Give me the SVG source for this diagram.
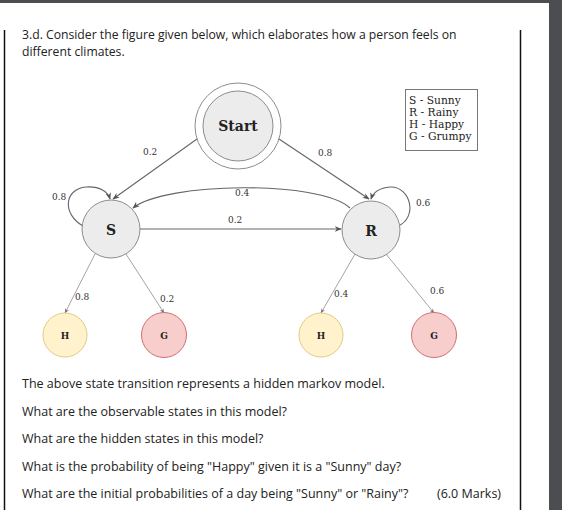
<svg xmlns="http://www.w3.org/2000/svg" width="562" height="510" viewBox="0 0 562 510">
<defs>
<style>
.q{font-family:"Open Sans","Liberation Sans",sans-serif;font-size:12.5px;fill:#222}
.t{font-family:"Open Sans","Liberation Sans",sans-serif;font-size:12.2px;fill:#222}
.n{font-family:"DejaVu Serif","Liberation Serif",serif;font-size:9px;fill:#333}
.lb{font-family:"DejaVu Serif","Liberation Serif",serif;font-weight:bold;fill:#222;text-anchor:middle}
.lg{font-family:"DejaVu Serif","Liberation Serif",serif;font-size:10.7px;fill:#222}
.st{fill:#ececec;stroke:#8c8c8c;stroke-width:1}
.e{fill:none;stroke:#666;stroke-width:1.1}
.o{fill:none;stroke:#999;stroke-width:0.9}
</style>
<marker id="a" viewBox="0 0 10 10" refX="9" refY="5" markerWidth="7" markerHeight="7" orient="auto" markerUnits="userSpaceOnUse">
<path d="M0,1 L10,5 L0,9 L3,5 Z" fill="#555"/>
</marker>
<marker id="b" viewBox="0 0 10 10" refX="9" refY="5" markerWidth="5" markerHeight="5" orient="auto" markerUnits="userSpaceOnUse">
<path d="M0,1 L10,5 L0,9 L3,5 Z" fill="#777"/>
</marker>
</defs>
<rect x="0" y="0" width="562" height="510" fill="#4b4d50"/>
<rect x="0" y="3" width="549" height="507" fill="#ffffff"/>
<line x1="4.5" y1="30" x2="4.5" y2="510" stroke="#111" stroke-width="1.5"/>
<line x1="520.5" y1="30" x2="520.5" y2="510" stroke="#111" stroke-width="1.5"/>
<text class="t" x="22" y="39">3.d. Consider the figure given below, which elaborates how a person feels on</text>
<text class="t" x="22" y="55.5">different climates.</text>

<g id="connectors">
<path class="e" d="M197,139 L113,199" marker-end="url(#a)"/>
<path class="e" d="M279,139 L369,199" marker-end="url(#a)"/>
<path class="e" d="M83,226 C62,214 64,189 86,187 C100,186 108,192 110,199" marker-end="url(#a)"/>
<path class="e" d="M398,226 C418,218 411,186 390,187 C379,188 373,193 371,199" marker-end="url(#a)"/>
<path class="e" d="M350,208 C320,180 165,182 133,208" marker-end="url(#a)"/>
<path class="e" d="M140,229 L341,229" marker-end="url(#a)"/>
<path class="o" d="M95,254 L65,313" marker-end="url(#b)"/>
<path class="o" d="M126,254 L164,313" marker-end="url(#b)"/>
<path class="o" d="M355,254 L321,313" marker-end="url(#b)"/>
<path class="o" d="M386,254 L434,313" marker-end="url(#b)"/>
<text class="n" x="143" y="155">0.2</text>
<text class="n" x="318" y="156">0.8</text>
<text class="n" x="235" y="196">0.4</text>
<text class="n" x="228" y="223">0.2</text>
<text class="n" x="52" y="200">0.8</text>
<text class="n" x="416" y="206">0.6</text>
<text class="n" x="75" y="300">0.8</text>
<text class="n" x="160" y="302">0.2</text>
<text class="n" x="334" y="297">0.4</text>
<text class="n" x="430" y="294">0.6</text>
</g>

<g id="start">
<circle cx="238" cy="126" r="43" fill="#fff" stroke="#8c8c8c" stroke-width="1"/>
<circle class="st" cx="238" cy="126" r="35"/>
<text class="lb" x="238" y="131" font-size="14">Start</text>
</g>
<g id="S">
<circle class="st" cx="111" cy="229" r="29"/>
<text class="lb" x="111" y="235" font-size="14">S</text>
</g>
<g id="R">
<circle class="st" cx="371" cy="230" r="29"/>
<text class="lb" x="371" y="236" font-size="14">R</text>
</g>
<g id="H1">
<circle cx="65" cy="335" r="22" fill="#fff2cc" stroke="#e0cb85" stroke-width="1"/>
<text class="lb" x="65" y="338.5" font-size="9" font-weight="normal">H</text>
</g>
<g id="G1">
<circle cx="164" cy="335" r="22.5" fill="#f8cecc" stroke="#cf6f72" stroke-width="1"/>
<text class="lb" x="164" y="338.5" font-size="9" font-weight="normal">G</text>
</g>
<g id="H2">
<circle cx="321" cy="335" r="22" fill="#fff2cc" stroke="#e0cb85" stroke-width="1"/>
<text class="lb" x="321" y="338.5" font-size="9" font-weight="normal">H</text>
</g>
<g id="G2">
<circle cx="434" cy="335" r="22.5" fill="#f8cecc" stroke="#cf6f72" stroke-width="1"/>
<text class="lb" x="434" y="338.5" font-size="9" font-weight="normal">G</text>
</g>
<g id="legend">
<rect x="405.5" y="89.5" width="72" height="61" fill="#fff" stroke="#777" stroke-width="1"/>
<text class="lg" x="409" y="104">S - Sunny</text>
<text class="lg" x="409" y="116">R - Rainy</text>
<text class="lg" x="409" y="128">H - Happy</text>
<text class="lg" x="409" y="140">G - Grumpy</text>
</g>

<text class="q" x="22" y="388">The above state transition represents a hidden markov model.</text>
<text class="q" x="22" y="416">What are the observable states in this model?</text>
<text class="q" x="22" y="443">What are the hidden states in this model?</text>
<text class="q" x="22" y="471">What is the probability of being "Happy" given it is a "Sunny" day?</text>
<text class="q" x="22" y="498">What are the initial probabilities of a day being "Sunny" or "Rainy"?</text>
<text class="q" x="437" y="498">(6.0 Marks)</text>
</svg>
